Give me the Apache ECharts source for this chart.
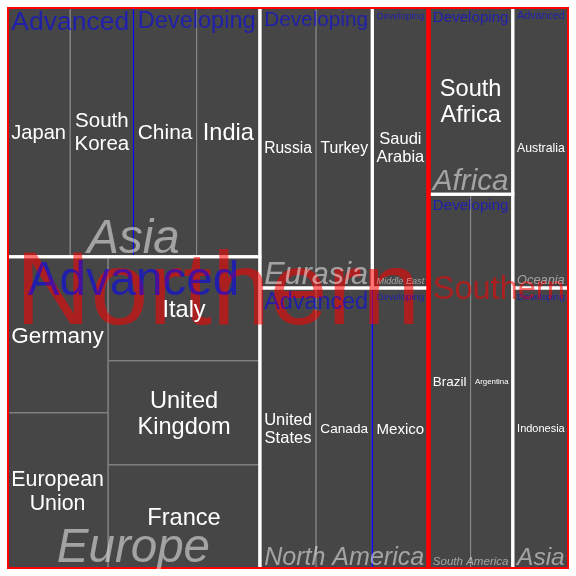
<!DOCTYPE html>
<html>
<head>
<meta charset="utf-8">
<script src="https://cdn.jsdelivr.net/npm/echarts@6.0.0/dist/echarts.min.js"></script>
<style>
html,body{margin:0;padding:0;background:#ffffff;}
#chart{width:576px;height:576px;}
</style>
</head>
<body>
<div id="chart"></div>
<script>
// ---------------- data ----------------
const countries = ['Japan', 'South Korea', 'China', 'India',
  'Germany', 'European Union', 'Italy', 'United Kingdom', 'France',
  'Russia', 'Turkey', 'Saudi Arabia',
  'United States', 'Canada', 'Mexico',
  'South Africa', 'Brazil', 'Argentina', 'Australia', 'Indonesia'];
const countryHemisphere = ['Northern', 'Northern', 'Northern', 'Northern',
  'Northern', 'Northern', 'Northern', 'Northern', 'Northern',
  'Northern', 'Northern', 'Northern',
  'Northern', 'Northern', 'Northern',
  'Southern', 'Southern', 'Southern', 'Southern', 'Southern'];
const countryRegion = ['Asia', 'Asia', 'Asia', 'Asia',
  'Europe', 'Europe', 'Europe', 'Europe', 'Europe',
  'Eurasia', 'Eurasia', 'Middle East',
  'North America', 'North America', 'North America',
  'Africa', 'South America', 'South America', 'Oceania', 'Asia'];
const countryEconomy = ['Advanced', 'Advanced', 'Developing', 'Developing',
  'Advanced', 'Advanced', 'Advanced', 'Advanced', 'Advanced',
  'Developing', 'Developing', 'Developing',
  'Advanced', 'Advanced', 'Developing',
  'Developing', 'Developing', 'Developing', 'Advanced', 'Developing'];
const countrySize = [1, 1, 1, 1, 1, 1, 1, 1, 1, 1, 1, 1, 1, 1, 1, 1, 1, 1, 1, 1];

// ---------------- layout spec (arrangement of children, not coordinates) ----------------
const arrangement = {
  '': ['h', 'Northern', 'Southern'],
  'Northern': ['h', ['v', 'Asia', 'Europe'], ['v', ['h', 'Eurasia', 'Middle East'], 'North America']],
  'Southern': ['h', ['v', 'Africa', 'South America'], ['v', 'Oceania', 'Asia']],
  'Northern/Europe/Advanced': ['h', ['v', 'Germany', 'European Union'], ['v', 'Italy', 'United Kingdom', 'France']]
};

// ---------------- styles ----------------
const FONT = '"Liberation Sans", Arial, sans-serif';
const levelStyle = {
  1: { max: 104, color: 'rgba(255,0,0,0.55)', italic: false, stroke: '#ff0000', lw: 4 },
  2: { max: 47.5, color: 'rgba(255,255,255,0.5)', italic: true, stroke: '#ffffff', lw: 3 },
  3: { max: 47.5, color: 'rgba(0,0,255,0.55)', italic: false, stroke: '#0000ff', lw: 1 },
  4: { max: 23.6, color: '#ffffff', italic: false, stroke: '#8c8c8c', lw: 1 }
};
const CELL_FILL = '#464646';
const PAD_X = 8.5;

// ---------------- build tree ----------------
const root = { name: '', path: '', level: 0, children: [], value: 0 };
function getChild(node, name) {
  let c = node.children.find(ch => ch.name === name);
  if (!c) {
    c = { name: name, path: node.path ? node.path + '/' + name : name, level: node.level + 1, children: [], value: 0 };
    node.children.push(c);
  }
  return c;
}
countries.forEach((name, i) => {
  const chain = [countryHemisphere[i], countryRegion[i], countryEconomy[i], name];
  let node = root;
  root.value += countrySize[i];
  chain.forEach(n => { node = getChild(node, n); node.value += countrySize[i]; });
});

function specValue(node, item) {
  if (typeof item === 'string') return getChild(node, item).value;
  return item.slice(1).reduce((s, it) => s + specValue(node, it), 0);
}
function placeSpec(node, spec, x0, y0, x1, y1) {
  const dir = spec[0];
  const items = spec.slice(1);
  const total = items.reduce((s, it) => s + specValue(node, it), 0);
  let acc = 0;
  items.forEach(it => {
    const v = specValue(node, it);
    let a, b, c, d;
    if (dir === 'h') {
      a = x0 + (x1 - x0) * acc / total; c = x0 + (x1 - x0) * (acc + v) / total; b = y0; d = y1;
    } else {
      b = y0 + (y1 - y0) * acc / total; d = y0 + (y1 - y0) * (acc + v) / total; a = x0; c = x1;
    }
    acc += v;
    if (typeof it === 'string') place(getChild(node, it), a, b, c, d);
    else placeSpec(node, it, a, b, c, d);
  });
}
function place(node, x0, y0, x1, y1) {
  node.rect = [x0, y0, x1, y1];
  if (!node.children.length) return;
  const spec = arrangement[node.path] || ['h'].concat(node.children.map(c => c.name));
  placeSpec(node, spec, x0, y0, x1, y1);
}
place(root, 0, 0, 1, 1);

const nodes = [];
(function collect(n) { if (n.level > 0) nodes.push(n); n.children.forEach(collect); })(root);

// ---------------- text measuring (same canvas engine as the renderer) ----------------
const mctx = document.createElement('canvas').getContext('2d');
function fontStr(italic, size) { return (italic ? 'italic ' : '') + size + 'px ' + FONT; }
function textWidth(s, italic) {
  mctx.font = fontStr(italic, 100);
  return mctx.measureText(s).width / 100;
}
// cap-height metrics relative to the 'middle' baseline used by zrender
function capMetrics(italic) {
  mctx.font = fontStr(italic, 100);
  mctx.textBaseline = 'middle';
  const m = mctx.measureText('H');
  return { asc: m.actualBoundingBoxAscent / 100, desc: m.actualBoundingBoxDescent / 100 };
}
const capReg = capMetrics(false), capIt = capMetrics(true);

function renderItem(params, api) {
  const n = nodes[params.dataIndex];
  const st = levelStyle[n.level];
  const p0 = api.coord([api.value(0), api.value(1)]);
  const p1 = api.coord([api.value(2), api.value(3)]);
  const x0 = p0[0], y0 = p0[1], x1 = p1[0], y1 = p1[1];
  const w = x1 - x0, h = y1 - y0;
  const children = [];
  children.push({
    type: 'rect',
    shape: { x: x0, y: y0, width: w, height: h },
    style: { fill: n.level === 4 ? CELL_FILL : null, stroke: st.stroke, lineWidth: st.lw },
    z2: 5 - n.level
  });
  const lines = n.level === 4 ? n.name.split(' ') : [n.name];
  const em = Math.max.apply(null, lines.map(l => textWidth(l, st.italic)));
  const fs = Math.min(st.max, (w - PAD_X) / em);
  const cm = st.italic ? capIt : capReg;
  const cx = (x0 + x1) / 2;
  let ty;
  if (n.level === 3) {
    // cap top 5px below the top edge
    ty = y0 + 5 + cm.asc * fs;
  } else if (n.level === 2) {
    // baseline a few px above the bottom edge
    const pad = 4 + (/[gjpqy]/.test(n.name) ? 0.07 * fs : 0);
    ty = y1 - pad - cm.desc * fs;
  } else {
    // caps centred in the cell
    ty = (y0 + y1) / 2 - (cm.desc - cm.asc) / 2 * fs;
  }
  children.push({
    type: 'text',
    x: cx, y: ty,
    z2: 10 + n.level,
    style: {
      text: lines.join('\n'),
      fill: st.color,
      fontSize: fs,
      fontFamily: FONT,
      fontStyle: st.italic ? 'italic' : 'normal',
      align: 'center',
      verticalAlign: 'middle',
      lineHeight: fs * 1.12
    }
  });
  return { type: 'group', children: children };
}

const chart = echarts.init(document.getElementById('chart'), null, { renderer: 'canvas' });
chart.setOption({
  animation: false,
  backgroundColor: '#ffffff',
  grid: { left: 7, right: 7, top: 7, bottom: 7 },
  xAxis: { type: 'value', min: 0, max: 1, show: false },
  yAxis: { type: 'value', min: 0, max: 1, inverse: true, show: false },
  series: [{
    type: 'custom',
    clip: true,
    silent: true,
    renderItem: renderItem,
    encode: { x: [0, 2], y: [1, 3] },
    data: nodes.map(n => n.rect)
  }]
});
</script>
</body>
</html>
